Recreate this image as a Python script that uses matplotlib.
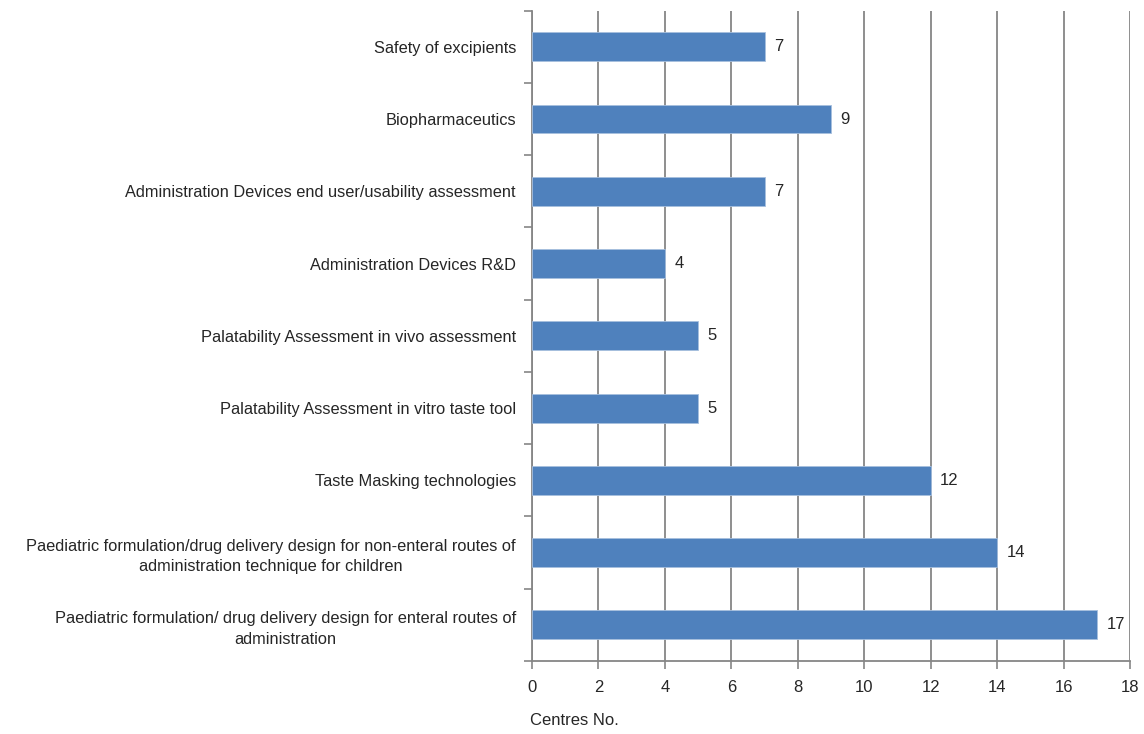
import matplotlib.pyplot as plt
import numpy as np
from matplotlib.ticker import MultipleLocator

plt.rcParams['font.family'] = ['Liberation Sans', 'DejaVu Sans']

# categories listed bottom to top
categories = [
    'Paediatric formulation/ drug delivery design for enteral routes of\nadministration',
    'Paediatric formulation/drug delivery design for non-enteral routes of\nadministration technique for children',
    'Taste Masking technologies',
    'Palatability Assessment in vitro taste tool',
    'Palatability Assessment in vivo assessment',
    'Administration Devices R&D',
    'Administration Devices end user/usability assessment',
    'Biopharmaceutics',
    'Safety of excipients',
]
centres = [17, 14, 12, 5, 5, 4, 7, 9, 7]

bar_color = '#4f81bd'
grid_color = '#868686'
text_color = '#262626'

fig = plt.figure(figsize=(11.44, 7.34), dpi=100)
ax = fig.add_axes([0.465, 0.0995, 0.523, 0.886])

y = np.arange(len(categories))
ax.barh(y, centres, height=0.4, color=bar_color, edgecolor='#a7bfde', linewidth=0.6, zorder=3)

for yi, v in zip(y, centres):
    ax.text(v + 0.28, yi, str(v), va='center', ha='left', fontsize=12, color=text_color)

ax.set_xlim(0, 18)
ax.set_ylim(-0.5, len(categories) - 0.5)
ax.xaxis.set_major_locator(MultipleLocator(2))
ax.set_yticks(y)
ax.set_yticklabels(categories, fontsize=11.8, color=text_color, ha='center',
                   multialignment='center', linespacing=1.45)
ax.set_yticks(np.arange(-0.5, len(categories), 1), minor=True)
ax.tick_params(axis='y', which='major', length=0, pad=0)
ax.tick_params(axis='y', which='minor', length=6, width=1.2, color=grid_color)
ax.tick_params(axis='x', length=6, width=1.2, color=grid_color, labelsize=12, labelcolor=text_color, pad=8)

# centre-align multi-line labels, right edge near the axis
fig.canvas.draw()
renderer = fig.canvas.get_renderer()
for lab in ax.get_yticklabels():
    bb = lab.get_window_extent(renderer)
    w = bb.width
    lab.set_x(-(w / 2 + 16) / (ax.get_window_extent(renderer).width))

ax.grid(axis='x', color=grid_color, linewidth=1.3, zorder=0)
for s in ['top', 'right']:
    ax.spines[s].set_visible(False)
for s in ['left', 'bottom']:
    ax.spines[s].set_color(grid_color)
    ax.spines[s].set_linewidth(1.3)

fig.text(0.463, 0.008, 'Centres No.', fontsize=12, color=text_color, ha='left', va='bottom')

fig.savefig('out.png', dpi=100)
